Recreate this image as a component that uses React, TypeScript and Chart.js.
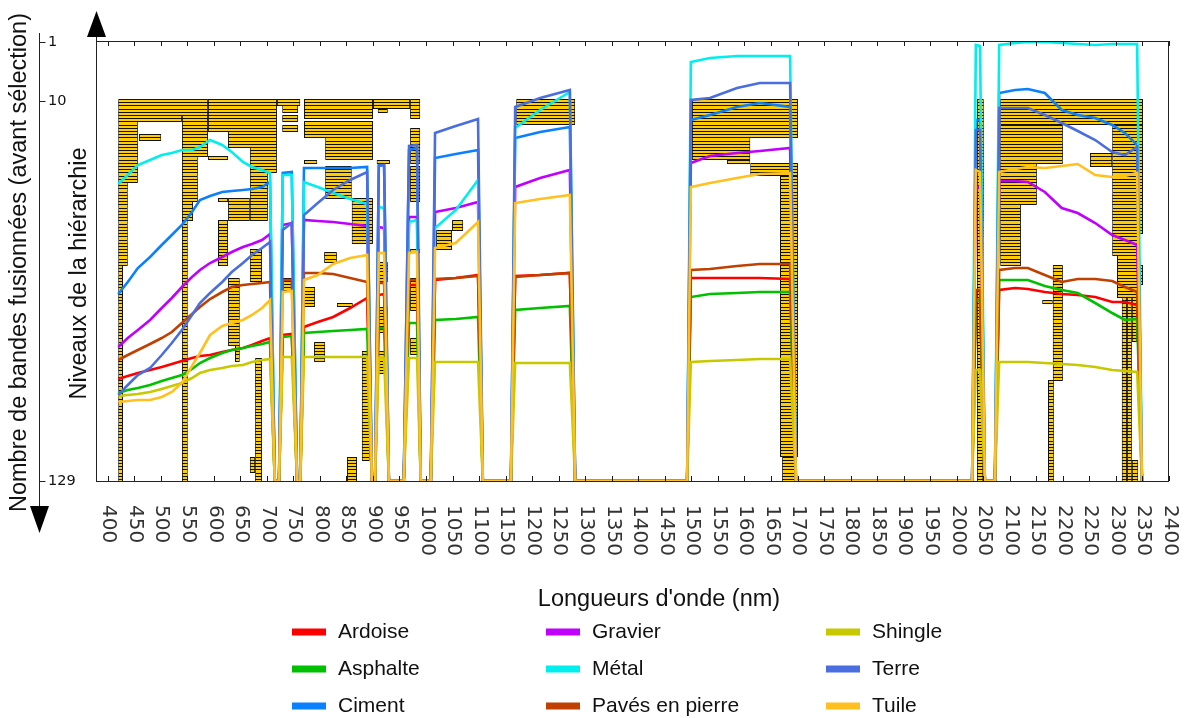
import React, { useEffect, useRef } from 'react';
import { Chart, registerables, LinearScale } from 'chart.js';

// ---------------- data ----------------
const WAVELENGTHS = [420, 438, 457, 480, 502, 521, 540, 559, 574, 593, 616, 634, 655, 672, 691, 706, 715, 723, 730, 747, 757, 763, 770, 796, 825, 857, 889, 898, 904, 911, 921, 930, 958, 968, 983, 990, 1009, 1017, 1056, 1098, 1107, 1160, 1168, 1215, 1271, 1281, 1492, 1499, 1535, 1586, 1629, 1686, 1697, 2029, 2036, 2044, 2053, 2072, 2080, 2110, 2134, 2166, 2198, 2228, 2261, 2293, 2317, 2340, 2349];

const ARDOISE = [102, 105, 108, 111, 114, 117, 120, 123, 125, 126, 129, 131, 133, 136, 140, 143, 0, 0, 146, 147, 0, 0, 154, 159, 164, 173, 183, 0, 0, 186, 187, 0, 0, 196, 196, 0, 0, 201, 203, 206, 0, 0, 205, 206, 208, 0, 0, 203, 203, 203, 203, 202, 0, 0, 181, 181, 0, 0, 191, 193, 192, 189, 187, 186, 184, 179, 179, 176, 0];
const ASPHALTE = [88, 91, 93, 96, 100, 103, 106, 112, 118, 123, 128, 131, 133, 135, 137, 139, 0, 0, 144, 145, 0, 0, 148, 149, 150, 151, 152, 0, 0, 153, 153, 0, 0, 158, 158, 0, 0, 161, 162, 164, 0, 0, 171, 173, 175, 0, 0, 184, 187, 188, 189, 189, 0, 0, 181, 181, 0, 0, 201, 201, 201, 195, 191, 188, 178, 168, 161, 162, 0];
const CIMENT = [187, 199, 213, 224, 236, 246, 256, 269, 281, 285, 289, 290, 291, 292, 294, 299, 0, 0, 308, 309, 0, 0, 313, 313, 313, 313, 314, 0, 0, 316, 316, 0, 0, 331, 333, 0, 0, 323, 327, 331, 0, 0, 343, 349, 354, 0, 0, 361, 366, 374, 378, 374, 0, 0, 361, 361, 0, 0, 388, 391, 392, 388, 371, 366, 363, 356, 348, 336, 0];
const GRAVIER = [134, 143, 151, 161, 173, 183, 194, 204, 211, 218, 224, 229, 234, 237, 241, 247, 0, 0, 256, 258, 0, 0, 261, 260, 259, 257, 255, 0, 0, 254, 253, 0, 0, 264, 264, 0, 0, 269, 273, 279, 0, 0, 294, 303, 311, 0, 0, 318, 325, 328, 330, 333, 0, 0, 291, 296, 0, 0, 300, 300, 299, 289, 273, 268, 258, 246, 241, 236, 0];
const METAL = [297, 306, 316, 321, 326, 328, 331, 331, 334, 341, 336, 329, 319, 314, 311, 308, 0, 0, 306, 306, 0, 0, 299, 294, 288, 282, 277, 0, 0, 274, 273, 0, 0, 259, 261, 0, 0, 253, 271, 301, 0, 0, 353, 371, 389, 0, 0, 419, 423, 425, 425, 425, 0, 0, 436, 435, 0, 0, 436, 438, 439, 439, 438, 437, 436, 437, 437, 437, 0];
const PAVES = [121, 126, 131, 137, 143, 149, 158, 167, 174, 182, 189, 194, 196, 197, 198, 199, 0, 0, 201, 201, 0, 0, 208, 208, 207, 203, 199, 0, 0, 198, 198, 0, 0, 201, 201, 0, 0, 202, 203, 205, 0, 0, 204, 206, 208, 0, 0, 211, 212, 215, 217, 217, 0, 0, 191, 191, 0, 0, 211, 213, 213, 206, 199, 202, 202, 200, 194, 189, 0];
const SHINGLE = [85, 86, 87, 89, 92, 95, 98, 103, 108, 111, 113, 115, 116, 119, 121, 122, 0, 0, 124, 124, 0, 0, 124, 124, 124, 124, 124, 0, 0, 123, 123, 0, 0, 123, 123, 0, 0, 119, 119, 119, 0, 0, 118, 118, 118, 0, 0, 119, 120, 121, 122, 122, 0, 0, 111, 111, 0, 0, 119, 119, 119, 118, 117, 116, 114, 111, 110, 109, 0];
const TERRE = [86, 96, 106, 113, 126, 138, 151, 166, 178, 188, 199, 209, 218, 226, 233, 239, 0, 0, 251, 258, 0, 0, 266, 278, 291, 301, 309, 0, 0, 315, 316, 0, 0, 335, 336, 0, 0, 348, 355, 362, 0, 0, 374, 383, 391, 0, 0, 381, 383, 393, 398, 398, 0, 0, 351, 351, 0, 0, 373, 373, 373, 366, 358, 350, 341, 329, 326, 334, 0];
const TUILE = [79, 80, 81, 81, 84, 89, 98, 115, 128, 146, 155, 158, 161, 166, 173, 181, 0, 0, 189, 190, 0, 0, 201, 206, 217, 223, 226, 0, 0, 228, 228, 0, 0, 228, 229, 0, 0, 233, 238, 259, 0, 0, 278, 282, 286, 0, 0, 294, 298, 303, 307, 308, 0, 0, 311, 309, 0, 0, 309, 312, 314, 313, 315, 317, 306, 304, 305, 308, 0];

const SERIES_NAMES = ['Ardoise', 'Asphalte', 'Ciment', 'Gravier', 'Métal', 'Pavés en pierre', 'Shingle', 'Terre', 'Tuile'];
const SERIES_COLORS = ['#ff0000', '#00c000', '#0a80ff', '#c000ff', '#00eeee', '#c04000', '#c8c800', '#4a6ee0', '#ffc020'];
const SERIES_VALUES = [ARDOISE, ASPHALTE, CIMENT, GRAVIER, METAL, PAVES, SHINGLE, TERRE, TUILE];

// hierarchy blocks: wavelength span and range of hierarchy levels
const BLOCK_START = [420, 420, 420, 420, 420, 459, 540, 540, 540, 540, 589, 589, 627, 668, 668, 627, 589, 608, 608, 668, 627, 640, 678, 668, 719, 729, 729, 729, 770, 900, 909, 970, 770, 810, 770, 810, 860, 970, 970, 970, 970, 970, 907, 909, 909, 909, 879, 851, 808, 770, 832, 789, 1019, 1049, 1170, 1501, 1501, 1567, 1611, 1667, 1671, 2038, 2038, 2082, 2082, 2293, 2251, 2293, 2302, 2311, 2321, 2330, 2330, 2342, 2082, 2082, 2181, 2161, 2172, 730];
const BLOCK_END = [589, 540, 457, 438, 429, 501, 589, 570, 561, 551, 719, 719, 719, 719, 702, 668, 627, 627, 627, 691, 649, 649, 691, 678, 763, 759, 759, 759, 900, 970, 928, 989, 900, 900, 795, 860, 900, 989, 989, 989, 989, 989, 932, 928, 928, 928, 894, 870, 832, 791, 862, 810, 1049, 1070, 1281, 1701, 1611, 1611, 1701, 1701, 1695, 2051, 2050, 2351, 2200, 2351, 2293, 2342, 2342, 2321, 2330, 2340, 2342, 2351, 2151, 2121, 2200, 2181, 2183, 747];
const BLOCK_LEVEL_FROM = [10, 15, 17, 36, 62, 21, 15, 28, 42, 48, 10, 15, 20, 25, 33, 41, 28, 41, 48, 57, 66, 87, 91, 122, 10, 12, 15, 18, 10, 10, 13, 10, 17, 22, 29, 31, 41, 19, 31, 57, 66, 85, 29, 61, 75, 89, 89, 122, 58, 69, 74, 86, 51, 48, 10, 10, 22, 29, 30, 34, 122, 10, 78, 10, 18, 18, 27, 52, 59, 72, 72, 72, 123, 62, 30, 43, 62, 73, 98, 66];
const BLOCK_LEVEL_TO = [14, 16, 35, 61, 129, 22, 27, 41, 47, 129, 14, 19, 24, 32, 47, 47, 28, 41, 61, 66, 86, 91, 129, 126, 11, 13, 16, 19, 15, 12, 13, 15, 21, 28, 29, 40, 54, 29, 41, 57, 75, 89, 29, 66, 82, 95, 122, 129, 60, 74, 74, 91, 56, 50, 17, 21, 28, 29, 33, 121, 129, 77, 129, 17, 29, 51, 30, 58, 71, 129, 129, 85, 129, 67, 42, 61, 97, 73, 129, 69];

const X_TICKS = [400, 450, 500, 550, 600, 650, 700, 750, 800, 850, 900, 950, 1000, 1050, 1100, 1150, 1200, 1250, 1300, 1350, 1400, 1450, 1500, 1550, 1600, 1650, 1700, 1750, 1800, 1850, 1900, 1950, 2000, 2050, 2100, 2150, 2200, 2250, 2300, 2350, 2400];
const LEVEL_TICKS = [1, 10, 129];

const X_TITLE = "Longueurs d'onde (nm)";
const Y_TITLE_OUTER = 'Nombre de bandes fusionnées (avant sélection)';
const Y_TITLE_INNER = 'Niveaux de la hiérarchie';

// ---------------- piecewise level scale ----------------
const LEVEL_TICK_FRACTIONS = [1 / 440, 60 / 440, 1];

class LevelScale extends LinearScale {
  static id = 'levels';
  static defaults = {};
  fracFor(v: number) {
    const t = LEVEL_TICKS;
    const f = LEVEL_TICK_FRACTIONS;
    let i = 0;
    while (i < t.length - 2 && v > t[i + 1]) i++;
    return f[i] + ((v - t[i]) / (t[i + 1] - t[i])) * (f[i + 1] - f[i]);
  }
  getPixelForValue(value: number) {
    // snapped to whole pixels so that the hierarchy rows render crisply
    return Math.round(this.top + this.fracFor(value) * (this.bottom - this.top));
  }
  getValueForPixel(pixel: number) {
    const p = (pixel - this.top) / (this.bottom - this.top);
    const t = LEVEL_TICKS;
    const f = LEVEL_TICK_FRACTIONS;
    let i = 0;
    while (i < f.length - 2 && p > f[i + 1]) i++;
    return t[i] + ((p - f[i]) / (f[i + 1] - f[i])) * (t[i + 1] - t[i]);
  }
}

Chart.register(...registerables, LevelScale);

// ---------------- decorations ----------------
const decorPlugin = {
  id: 'decor',
  afterDatasetsDraw(chart: any) {
    const { ctx, chartArea: a } = chart;
    const xs = chart.scales.x;
    ctx.save();
    ctx.strokeStyle = '#1a1a1a';
    ctx.lineWidth = 1;
    ctx.beginPath();
    for (const t of X_TICKS) {
      const px = Math.round(xs.getPixelForValue(t)) + 0.5;
      ctx.moveTo(px, a.bottom);
      ctx.lineTo(px, a.bottom - 5);
      ctx.moveTo(px, a.top);
      ctx.lineTo(px, a.top + 5);
    }
    ctx.stroke();
    ctx.strokeStyle = '#222';
    ctx.strokeRect(a.left - 0.5, a.top + 0.5, a.right - a.left, a.bottom - a.top);
    ctx.restore();
  },
  afterDraw(chart: any) {
    const { ctx, chartArea: a } = chart;
    const xs = chart.scales.x;
    const ys = chart.scales.yLev;
    ctx.save();
    // vertical arrow above plot
    ctx.fillStyle = '#000';
    ctx.strokeStyle = '#222';
    ctx.lineWidth = 1;
    ctx.beginPath();
    ctx.moveTo(a.left - 0.5, a.top);
    ctx.lineTo(a.left - 0.5, a.top - 6);
    ctx.stroke();
    ctx.beginPath();
    ctx.moveTo(a.left - 10, a.top - 4);
    ctx.lineTo(a.left + 9, a.top - 4);
    ctx.lineTo(a.left - 0.5, a.top - 30);
    ctx.closePath();
    ctx.fill();

    // left hierarchy axis
    const ax = 39.5;
    ctx.beginPath();
    ctx.moveTo(ax, a.top - 8);
    ctx.lineTo(ax, 507);
    ctx.stroke();
    ctx.beginPath();
    ctx.moveTo(ax - 9.5, 506);
    ctx.lineTo(ax + 9.5, 506);
    ctx.lineTo(ax, 533);
    ctx.closePath();
    ctx.fill();
    ctx.font = '14.5px "DejaVu Sans", sans-serif';
    ctx.textAlign = 'left';
    ctx.textBaseline = 'middle';
    ctx.fillStyle = '#111';
    for (const v of LEVEL_TICKS) {
      const py = Math.round(ys.getPixelForValue(v)) + 0.5;
      ctx.beginPath();
      ctx.moveTo(ax, py);
      ctx.lineTo(ax + 6, py);
      ctx.stroke();
      ctx.fillText(String(v), ax + 8.5, py);
    }

    // x tick labels (rotated clockwise)
    ctx.font = '20px "DejaVu Sans", sans-serif';
    ctx.fillStyle = '#333';
    for (const t of X_TICKS) {
      const px = xs.getPixelForValue(t);
      ctx.save();
      ctx.translate(px + 1, a.bottom + 24);
      ctx.rotate(Math.PI / 2);
      ctx.textAlign = 'left';
      ctx.textBaseline = 'middle';
      ctx.fillText(String(t), 0, 0);
      ctx.restore();
    }

    // titles
    ctx.fillStyle = '#111';
    ctx.font = '23.5px "Liberation Sans", Arial, sans-serif';
    ctx.textAlign = 'center';
    ctx.textBaseline = 'middle';
    ctx.fillText(X_TITLE, 659, 600);
    ctx.save();
    ctx.translate(20, 262.5);
    ctx.rotate(-Math.PI / 2);
    ctx.fillText(Y_TITLE_OUTER, 0, 0);
    ctx.restore();
    ctx.save();
    ctx.translate(80, 273.5);
    ctx.rotate(-Math.PI / 2);
    ctx.fillText(Y_TITLE_INNER, 0, 0);
    ctx.restore();

    // legend (3 columns, filled column by column)
    const colX = [292, 546, 826];
    const rowY = [632, 669, 706];
    ctx.font = '21px "Liberation Sans", Arial, sans-serif';
    ctx.textAlign = 'left';
    SERIES_NAMES.forEach((name, i) => {
      const cx = colX[Math.floor(i / 3)];
      const cy = rowY[i % 3];
      ctx.fillStyle = SERIES_COLORS[i];
      ctx.fillRect(cx, cy - 3.5, 34, 7);
      ctx.fillStyle = '#111';
      ctx.fillText(name, cx + 46, cy);
    });
    ctx.restore();
  },
};

// ---------------- chart datasets ----------------
function buildHierarchyBars() {
  const bars: any[] = [];
  BLOCK_START.forEach((s, i) => {
    for (let lv = BLOCK_LEVEL_FROM[i]; lv <= BLOCK_LEVEL_TO[i]; lv++) {
      bars.push({ x: [s, BLOCK_END[i]], y: lv, last: lv === BLOCK_LEVEL_TO[i] });
    }
  });
  return bars;
}

export default function App() {
  const ref = useRef<HTMLCanvasElement>(null);

  useEffect(() => {
    if (!ref.current) return;
    const lineSets = SERIES_NAMES.map((name, i) => ({
      type: 'line' as const,
      label: name,
      data: WAVELENGTHS.map((w, k) => ({ x: w, y: SERIES_VALUES[i][k] })),
      borderColor: SERIES_COLORS[i],
      backgroundColor: SERIES_COLORS[i],
      borderWidth: 2.6,
      pointRadius: 0,
      tension: 0,
      fill: false,
      xAxisID: 'x',
      yAxisID: 'ySpec',
      order: SERIES_NAMES.length - i,
    }));
    const barSet = {
      type: 'bar' as const,
      label: 'Hiérarchie',
      data: buildHierarchyBars(),
      indexAxis: 'y',
      xAxisID: 'x',
      yAxisID: 'yLev',
      backgroundColor: '#ffcc00',
      borderColor: '#111',
      borderWidth: (c: any) => ({ top: 1, left: 1, right: 1, bottom: c.raw && c.raw.last ? 1 : 0 }),
      borderSkipped: false,
      barPercentage: 1.4,
      maxBarThickness: 4,
      categoryPercentage: 1,
      grouped: false,
      inflateAmount: 0,
      clip: 0,
      order: 100,
    };
    const chart = new Chart(ref.current, {
      type: 'line',
      data: { datasets: [barSet as any, ...lineSets] },
      options: {
        responsive: false,
        animation: false,
        devicePixelRatio: 1,
        events: [],
        layout: { padding: { left: 97, top: 41, right: 16, bottom: 237 } },
        plugins: { legend: { display: false }, tooltip: { enabled: false }, title: { display: false } },
        scales: {
          x: { type: 'linear', min: 380, max: 2400, display: false },
          ySpec: { type: 'linear', axis: 'y', min: 0, max: 440, display: false },
          yLev: { type: 'levels' as any, axis: 'y', min: 1, max: 129, display: false },
        },
      },
      plugins: [decorPlugin],
    });
    return () => chart.destroy();
  }, []);

  return (
    <div style={{ position: 'fixed', left: 0, top: 0, width: 1185, height: 718, background: '#fff' }}>
      <canvas ref={ref} width={1185} height={718} style={{ display: 'block', width: 1185, height: 718 }} />
    </div>
  );
}
